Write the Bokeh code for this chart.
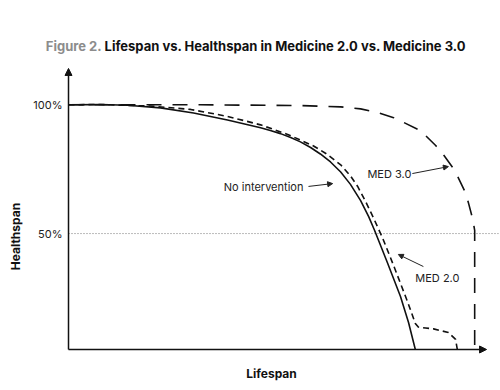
from bokeh.plotting import figure
from bokeh.models import Range1d, FixedTicker, Label, Arrow, NormalHead
from bokeh.embed import file_html
from bokeh.resources import INLINE

# ---- data (lifespan in arbitrary units 0-100, healthspan in %) ----
life_none = [0, 7.5, 13.9, 21.7, 29.5, 37.5, 45.3, 47.6, 50.0, 52.4, 54.7, 57.1, 59.4, 61.8,
             64.2, 66.5, 68.9, 70.8, 72.2, 75.2, 78.3, 80.2, 81.8]
health_none = [100, 100.1, 99.8, 98.8, 96.8, 94.1, 91.1, 90.0, 88.8, 87.3, 85.6, 83.4, 80.9, 77.8,
               73.9, 69.1, 62.8, 56.6, 51.2, 38.8, 25.6, 15.5, 5]

life_med2 = [0, 7.5, 19.3, 28.8, 37.5, 45.3, 51.7, 54.7, 57.8, 60.8, 64.2, 66.5, 68.2, 70.0,
             71.9, 74.1, 76.7, 80.0, 81.8, 82.5, 84.2, 86.1, 89.6, 91.3, 91.7]
health_med2 = [100, 100.1, 99.5, 98.2, 95.5, 92.2, 88.5, 86.3, 84.0, 81.0, 76.7, 72.4, 68.3, 62.7,
               56.2, 48.2, 37.5, 23.4, 15.1, 13.7, 13.35, 13.0, 11.6, 8.9, 5.0]

life_med3 = [0, 31.1, 54.7, 64.2, 68.9, 72.4, 76.7, 83.0, 86.6, 88.2, 90.6, 91.7, 93.6, 94.3,
             95.3, 95.8, 95.8, 95.8]
health_med3 = [100, 100, 99.7, 99.2, 98.4, 97.2, 95.0, 90.0, 84.2, 81.1, 75.7, 72.5, 66.0, 62.1,
               55.9, 51.2, 44.6, 5]

tick_values = [50, 100]
tick_labels = ["50%", "100%"]
reference_level = 50

title_prefix = "Figure 2."
title_main = "Lifespan vs. Healthspan in Medicine 2.0 vs. Medicine 3.0"
x_label = "Lifespan"
y_label = "Healthspan"

FONT = "Inter"
INK = "#111111"

p = figure(width=500, height=390, output_backend="svg", toolbar_location=None,
           title=None,
           x_range=Range1d(-16.04, 101.89), y_range=Range1d(-10.92, 140.48),
           min_border=0)
p.outline_line_color = None
p.grid.visible = False

# y axis placed on the lifespan origin
p.yaxis.fixed_location = 0
p.yaxis.bounds = (-2.7, 100.5)
p.yaxis.ticker = FixedTicker(ticks=tick_values)
p.yaxis.major_label_overrides = {v: t for v, t in zip(tick_values, tick_labels)}
p.yaxis.axis_line_color = None
p.yaxis.major_tick_line_color = None
p.yaxis.minor_tick_line_color = None
p.yaxis.major_tick_out = 0
p.yaxis.major_tick_in = 0
p.yaxis.major_label_standoff = 6
p.yaxis.major_label_text_font = FONT
p.yaxis.major_label_text_font_size = "11px"
p.yaxis.major_label_text_color = "#222222"
p.yaxis.axis_label = y_label
p.yaxis.axis_label_standoff = 7
p.yaxis.axis_label_text_font = FONT
p.yaxis.axis_label_text_font_size = "12px"
p.yaxis.axis_label_text_font_style = "bold"
p.yaxis.axis_label_text_color = INK

# x axis placed on the healthspan floor
p.xaxis.fixed_location = 5
p.xaxis.bounds = (0, 95.8)
p.xaxis.ticker = FixedTicker(ticks=[])
p.xaxis.axis_line_color = None
p.xaxis.major_tick_line_color = None
p.xaxis.minor_tick_line_color = None
p.xaxis.major_tick_out = 0
p.xaxis.major_tick_in = 0
p.xaxis.axis_label = x_label
p.xaxis.axis_label_standoff = 16
p.xaxis.axis_label_text_font = FONT
p.xaxis.axis_label_text_font_size = "12px"
p.xaxis.axis_label_text_font_style = "bold"
p.xaxis.axis_label_text_color = INK

# reference dotted line at 50%
p.line([0, 101.4], [reference_level, reference_level], line_color="#777777",
       line_width=1, line_dash="1 2")

# curves
p.line(life_none, health_none, line_color=INK, line_width=1.6, line_join="round")
p.line(life_med2, health_med2, line_color=INK, line_width=1.6, line_dash="6 4", line_join="round")
p.line(life_med3, health_med3, line_color=INK, line_width=1.6, line_dash="15 11", line_join="round")

# axes drawn as arrows
p.add_layout(Arrow(end=NormalHead(size=7, fill_color=INK, line_color=INK),
                   x_start=0, y_start=5, x_end=0, y_end=114.1,
                   line_color=INK, line_width=1.5))
p.add_layout(Arrow(end=NormalHead(size=7, fill_color=INK, line_color=INK),
                   x_start=0, y_start=5, x_end=98.6, y_end=5,
                   line_color=INK, line_width=1.5))

# annotations
def note(text, x, y, align):
    p.add_layout(Label(x=x, y=y, text=text, text_font=FONT, text_font_size="11px",
                       text_color="#222222", text_align=align, text_baseline="middle"))

def pointer(x0, y0, x1, y1):
    p.add_layout(Arrow(end=NormalHead(size=5, fill_color="#222222", line_color="#222222"),
                       x_start=x0, y_start=y0, x_end=x1, y_end=y1,
                       line_color="#222222", line_width=1))

note("No intervention", 55.4, 67.9, "right")
pointer(56.6, 68.3, 62.3, 69.4)
note("MED 3.0", 70.5, 73.3, "left")
pointer(81.1, 73.3, 89.6, 76.0)
note("MED 2.0", 81.8, 32.6, "left")
pointer(83.7, 37.2, 77.8, 41.9)

# title (two colours)
p.add_layout(Label(x=7.8, y=123.0, text=title_prefix, text_font=FONT, text_font_size="13px",
                   text_font_style="bold", text_color="#8c8c8c", text_align="right",
                   text_baseline="middle"))
p.add_layout(Label(x=8.5, y=123.0, text=title_main, text_font=FONT, text_font_size="13px",
                   text_font_style="bold", text_color=INK, text_align="left",
                   text_baseline="middle"))

open("out.html", "w").write(file_html(p, INLINE))
